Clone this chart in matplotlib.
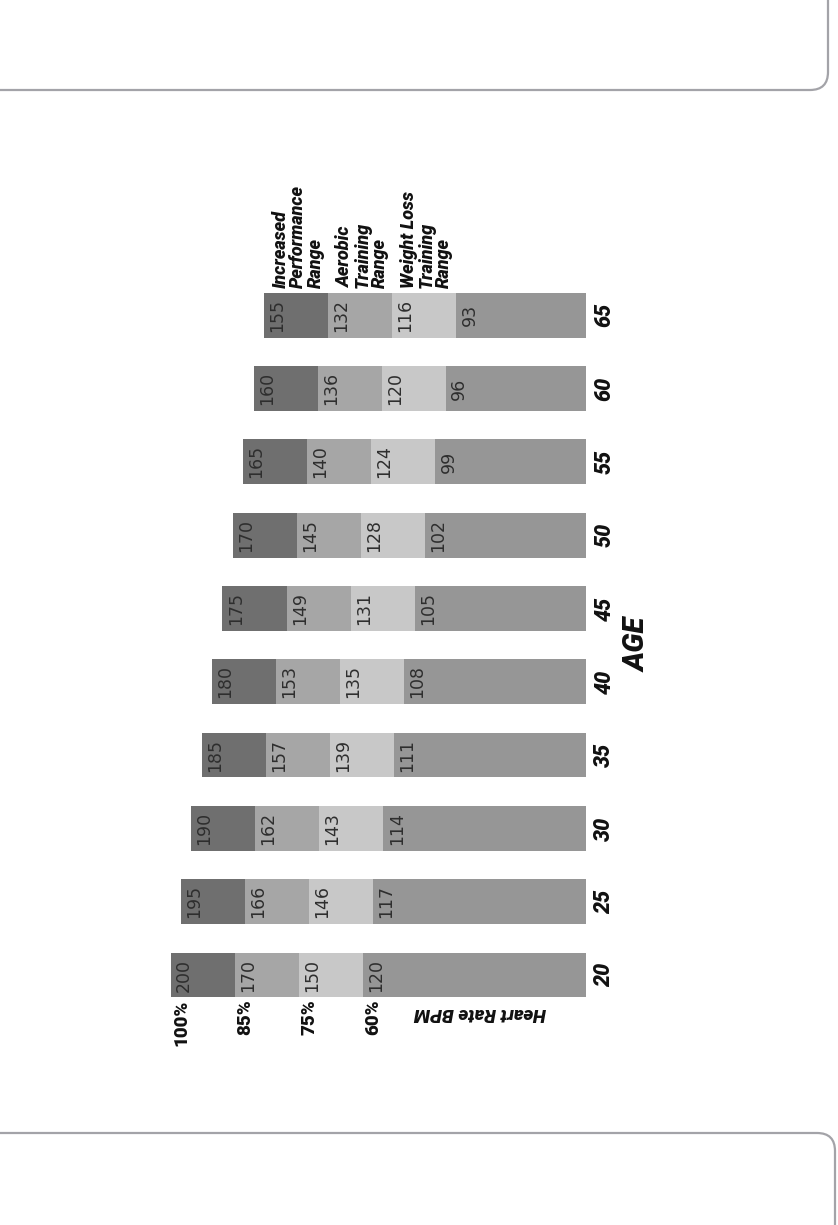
import matplotlib
matplotlib.use("Agg")
import matplotlib.pyplot as plt
from matplotlib.patches import FancyBboxPatch
from matplotlib.transforms import IdentityTransform

OUT = "out.png"

# target heart rate zones by age (BPM)
AGES = [20, 25, 30, 35, 40, 45, 50, 55, 60, 65]
HR_100 = [200, 195, 190, 185, 180, 175, 170, 165, 160, 155]
HR_85 = [170, 166, 162, 157, 153, 149, 145, 140, 136, 132]
HR_75 = [150, 146, 143, 139, 135, 131, 128, 124, 120, 116]
HR_60 = [120, 117, 114, 111, 108, 105, 102, 99, 96, 93]
PCT_LABELS = ["100%", "85%", "75%", "60%"]
ZONE_LABELS = ["Increased\nPerformance\nRange", "Aerobic\nTraining\nRange",
               "Weight Loss\nTraining\nRange"]

# the zones are drawn as equal-width bands (schematic, as in the original)
BAND = 30.8
BAR_H = 0.61
C_TOP, C_AER, C_WL, C_BASE = "#6f6f6f", "#a6a6a6", "#c8c8c8", "#969696"
BOLD = dict(family=["Roboto", "Liberation Sans"], fontweight="black", color="#111111")

fig = plt.figure(figsize=(8.38, 12.25), dpi=100)
ax = fig.add_axes([0, 0, 1, 1])
ax.set_xlim(282, -121)      # bars grow to the left (chart is turned on its side)
ax.set_ylim(-3.41, 13.30)
ax.axis("off")

y = list(range(len(AGES)))
top = HR_100
b1 = [t - BAND for t in top]
b2 = [t - 2 * BAND for t in top]
b3 = [t - 3 * BAND for t in top]

ax.barh(y, b3, left=0, height=BAR_H, color=C_BASE)
ax.barh(y, BAND, left=b3, height=BAR_H, color=C_WL)
ax.barh(y, BAND, left=b2, height=BAR_H, color=C_AER)
ax.barh(y, BAND, left=b1, height=BAR_H, color=C_TOP)

# values inside each band, next to the band's upper edge
for yi, edges, vals in zip(y, zip(top, b1, b2, b3), zip(HR_100, HR_85, HR_75, HR_60)):
    for e, v in zip(edges, vals):
        ax.annotate(str(v), (e, yi), textcoords="offset points", xytext=(9.5, 0),
                    rotation=90, ha="center", va="center", fontsize=12.5, color="#2e2e2e")
    ax.annotate(str(AGES[yi]), (0, yi), textcoords="offset points", xytext=(5, 0),
                rotation=90, ha="left", va="center", fontsize=15.5, style="italic", **BOLD)

# percentage markers under the first bar
for e, lab in zip((top[0], b1[0], b2[0], b3[0]), PCT_LABELS):
    ax.annotate(lab, (e, -BAR_H / 2), textcoords="offset points", xytext=(1.5, -1.5),
                rotation=90, ha="left", va="top", fontsize=13.5, **BOLD)

ax.annotate("Heart Rate BPM", (b3[0] / 2, -BAR_H / 2), textcoords="offset points",
            xytext=(4, -5), rotation=180, ha="center", va="top", fontsize=13.5,
            style="italic", **BOLD)

# zone names above the last bar
last = len(AGES) - 1
for e, lab in zip((top[last], b1[last], b2[last]), ZONE_LABELS):
    ax.annotate(lab, (e, last + BAR_H / 2), textcoords="offset points", xytext=(5.5, 3.5),
                rotation=90, ha="left", va="bottom", multialignment="left",
                linespacing=0.98, fontsize=13, style="italic", **BOLD)

ax.annotate("AGE", (0, (len(AGES) - 1) / 2), textcoords="offset points", xytext=(37, 0),
            rotation=90, ha="center", va="center", fontsize=21, style="italic", **BOLD)

# page frame pieces above and below the chart
for x0, y0, w, h in [(-60, 1135, 888, 200), (-60, -200, 895, 292)]:
    fig.add_artist(FancyBboxPatch((x0, y0), w, h, boxstyle="round,pad=0,rounding_size=18",
                                  transform=IdentityTransform(), fill=False,
                                  edgecolor="#a3a3a8", lw=1.6))

fig.savefig(OUT, dpi=100)
